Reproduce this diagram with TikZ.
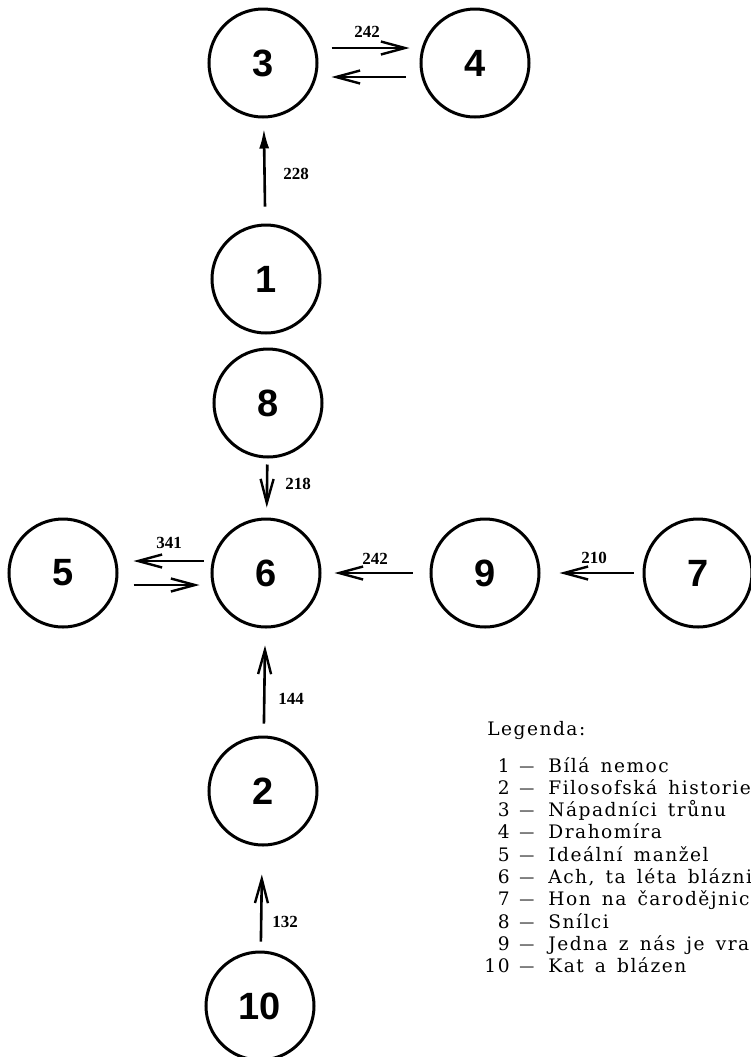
\documentclass[tikz,border=0pt]{standalone}
\usepackage{fontspec}
\usepackage{tikz}
\usetikzlibrary{arrows.meta}
\newfontfamily\numfont{Liberation Sans}
\newfontfamily\valfont{Liberation Serif}
\newfontfamily\legfont[LetterSpace=8,WordSpace=1.5]{DejaVu Serif}

\begin{document}
\begin{tikzpicture}[x=0.5pt,y=-0.5pt,
	play/.style={draw,circle,line width=1.5pt,minimum size=54pt,inner sep=0pt,
		font=\numfont\bfseries\fontsize{19}{19}\selectfont},
	link/.style={line width=1.3pt,-{Straight Barb[length=12pt,width=6.5pt,line width=1.2pt]}},
	val/.style={inner sep=0pt,font=\valfont\bfseries\fontsize{8.5}{8.5}\selectfont},
	leg/.style={inner sep=0pt,anchor=base west,font=\legfont\fontsize{9.3}{9.3}\selectfont}]
	\useasboundingbox (0,0) rectangle (751,1057);
	
	\node[play] (n3) at (263,63) {3};
	\node[play] (n4) at (475,63) {4};
	\node[play] (n1) at (266,279) {1};
	\node[play] (n8) at (268,403) {8};
	\node[play] (n5) at (63,573) {5};
	\node[play] (n6) at (266,573) {6};
	\node[play] (n9) at (485,573) {9};
	\node[play] (n7) at (698,573) {7};
	\node[play] (n2) at (263,791) {2};
	\node[play] (n10) at (260,1006) {10};
	
	\draw[link,shorten <=6.5pt,shorten >=5pt] ([yshift=7.5pt]n3.east) -- ([yshift=7.5pt]n4.west);
	\draw[link,shorten <=7pt,shorten >=6.5pt] ([yshift=-7pt]n4.west) -- ([yshift=-7pt]n3.east);
	\draw[line width=1.3pt,-{Latex[length=10pt,width=5pt]},shorten <=8.5pt,shorten >=5pt] (n1) -- (n3);
	\draw[link,shorten <=3pt,shorten >=5pt] (n8) -- (n6);
	\draw[link,shorten <=3.5pt,shorten >=7.5pt] ([yshift=6pt]n6.west) -- ([yshift=6pt]n5.east);
	\draw[link,shorten <=7.5pt,shorten >=5.5pt] ([yshift=-6pt]n5.east) -- ([yshift=-6pt]n6.west);
	\draw[link,shorten <=8.5pt,shorten >=6.5pt] (n9) -- (n6);
	\draw[link,shorten <=4.5pt,shorten >=9.5pt] (n7) -- (n9);
	\draw[link,shorten <=6pt,shorten >=8.5pt] (n2) -- (n6);
	\draw[link,shorten <=4.5pt,shorten >=14pt] (n10) -- (n2);
	
	\node[val] (v34) at (367,32) {242};
	\node[val] (v13) at (296,174) {228};
	\node[val] (v86) at (298,484) {218};
	\node[val] (v56) at (169,543) {341};
	\node[val] (v96) at (375,559) {242};
	\node[val] (v79) at (594,558) {210};
	\node[val] (v26) at (291,699) {144};
	\node[val] (v102) at (285,922) {132};
	
	\node[leg] (title) at (487,735) {Legenda:};
	\foreach \k/\t [count=\i] in {1/Bílá nemoc, 2/Filosofská historie, 3/Nápadníci trůnu,
		4/Drahomíra, 5/Ideální manžel, {6/Ach, ta léta bláznivá}, 7/Hon na čarodějnice,
		8/Snílci, 9/Jedna z nás je vrah, 10/Kat a blázen}
	{
		\node[leg,anchor=base east] (k\i) at (510,{772+22.3*(\i-1)}) {\k};
		\node[leg,font=\legfont\fontsize{7.5}{7.5}\selectfont] (d\i) at (519,{771+22.3*(\i-1)}) {—};
		\node[leg] (t\i) at (548,{772+22.3*(\i-1)}) {\t};
	}
\end{tikzpicture}
\end{document}
